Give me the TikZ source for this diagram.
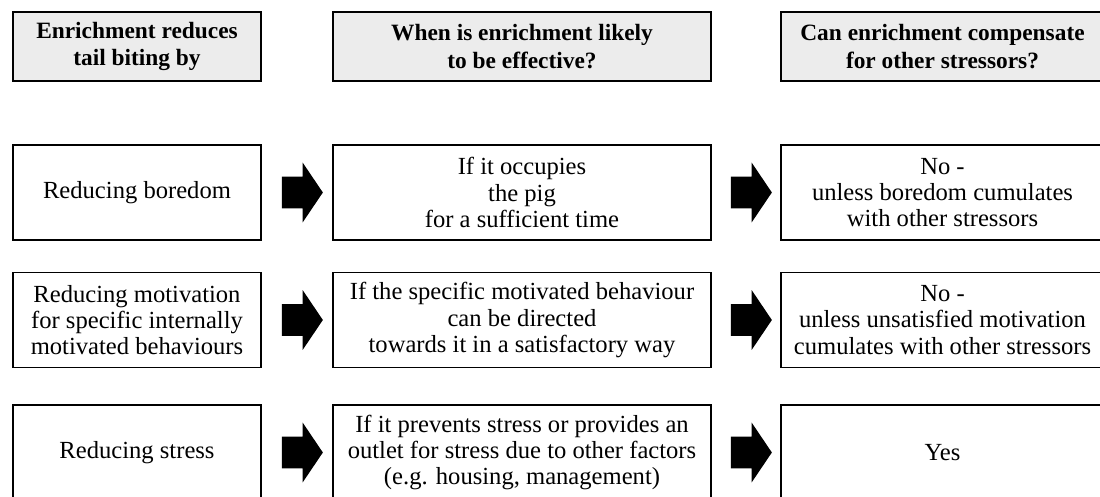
\documentclass[tikz,border=0pt]{standalone}
\usepackage{fontspec}
\setmainfont{Liberation Serif}
\usepackage{tikz}
\usetikzlibrary{positioning,shapes.arrows,calc}

\begin{document}
\begin{tikzpicture}[node distance=2.6cm,
    box/.style={rectangle, draw, line width=1.1pt, align=center, inner sep=2pt, font=\fontsize{14}{15}\selectfont},
    head/.style={box, fill=gray!15, minimum height=1.38cm, font=\fontsize{13.3}{15.5}\selectfont\bfseries},
    row/.style={minimum height=1.9cm},
    colA/.style={minimum width=4.96cm},
    colB/.style={minimum width=7.56cm},
    colC/.style={minimum width=6.46cm},
    fatarrow/.style={single arrow, fill=black, draw=none, inner xsep=0pt, inner ysep=0.31cm, minimum height=0.82cm, single arrow head extend=0.28cm, single arrow tip angle=112}]

    \useasboundingbox (0,0) rectangle (22,-9.94);

    % column headers
    \node[head, colA] (hA) at (2.74,-0.93) {Enrichment reduces\\tail biting by};
    \node[head, colB, right of=hA, xshift=5.1cm] (hB) {When is enrichment likely\\to be effective?};
    \node[head, colC, right of=hB, xshift=5.81cm] (hC) {Can enrichment compensate\\for other stressors?};

    % boredom
    \node[box, row, colA, below of=hA, yshift=-0.32cm] (boreA) {Reducing boredom};
    \node[box, row, colB, below of=hB, yshift=-0.32cm] (boreB) {If it occupies\\the pig\\for a sufficient time};
    \node[box, row, colC, below of=hC, yshift=-0.32cm] (boreC) {No -\\unless boredom cumulates\\with other stressors};

    % motivation
    \node[box, row, colA, below of=boreA, yshift=0.05cm] (motA) {Reducing motivation\\for specific internally\\motivated behaviours};
    \node[box, row, colB, below of=boreB, yshift=0.05cm] (motB) {If the specific motivated behaviour\\can be directed\\towards it in a satisfactory way};
    \node[box, row, colC, below of=boreC, yshift=0.05cm] (motC) {No -\\unless unsatisfied motivation\\cumulates with other stressors};

    % stress
    \node[box, row, colA, below of=motA, yshift=-0.05cm] (strA) {Reducing stress};
    \node[box, row, colB, below of=motB, yshift=-0.05cm] (strB) {If it prevents stress or provides an\\outlet for stress due to other factors\\(e.g. housing, management)};
    \node[box, row, colC, below of=motC, yshift=-0.05cm] (strC) {Yes};

    % block arrows between the columns
    \node[fatarrow] (boreAB) at ($(boreA.east)!0.5!(boreB.west)$) {};
    \node[fatarrow] (boreBC) at ($(boreB.east)!0.5!(boreC.west)$) {};
    \node[fatarrow] (motAB) at ($(motA.east)!0.5!(motB.west)$) {};
    \node[fatarrow] (motBC) at ($(motB.east)!0.5!(motC.west)$) {};
    \node[fatarrow] (strAB) at ($(strA.east)!0.5!(strB.west)$) {};
    \node[fatarrow] (strBC) at ($(strB.east)!0.5!(strC.west)$) {};
\end{tikzpicture}
\end{document}
